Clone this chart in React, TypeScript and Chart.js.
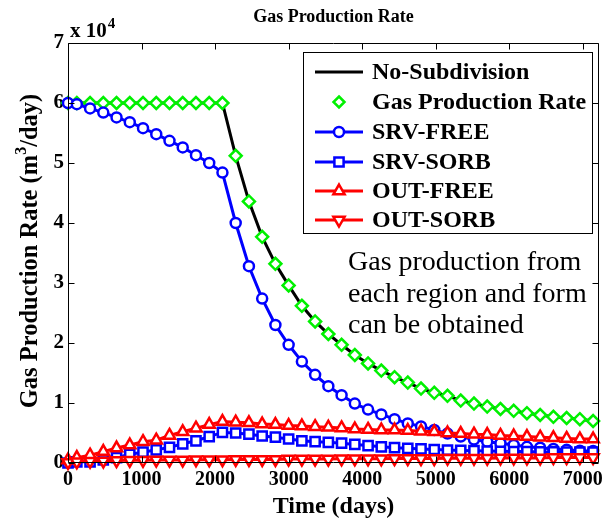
import React, { useEffect, useRef } from "react";
import { Chart, registerables } from "chart.js";

Chart.register(...registerables);

// ---- data (rates in units of 10^4 m^3/day) ----
const times = [0, 120, 300, 480, 660, 840, 1020, 1200, 1380, 1560, 1740, 1920, 2100, 2280, 2460, 2640, 2820, 3000, 3180, 3360, 3540, 3720, 3900, 4080, 4260, 4440, 4620, 4800, 4980, 5160, 5340, 5520, 5700, 5880, 6060, 6240, 6420, 6600, 6780, 6960, 7140];
const noSubdivision = [6.0, 6.0, 6.0, 6.0, 6.0, 6.0, 6.0, 6.0, 6.0, 6.0, 6.0, 6.0, 6.0, 5.12, 4.36, 3.77, 3.32, 2.96, 2.62, 2.36, 2.15, 1.97, 1.80, 1.66, 1.54, 1.43, 1.34, 1.24, 1.17, 1.12, 1.04, 0.99, 0.94, 0.90, 0.87, 0.83, 0.80, 0.77, 0.75, 0.73, 0.70];
const gasProductionRate = [6.0, 6.0, 6.0, 6.0, 6.0, 6.0, 6.0, 6.0, 6.0, 6.0, 6.0, 6.0, 6.0, 5.12, 4.36, 3.77, 3.32, 2.96, 2.62, 2.36, 2.15, 1.97, 1.80, 1.66, 1.54, 1.43, 1.34, 1.24, 1.17, 1.12, 1.04, 0.99, 0.94, 0.90, 0.87, 0.83, 0.80, 0.77, 0.75, 0.73, 0.70];
const srvFree = [6.0, 5.98, 5.91, 5.84, 5.76, 5.68, 5.58, 5.48, 5.37, 5.26, 5.13, 5.0, 4.84, 4.0, 3.28, 2.74, 2.30, 1.97, 1.69, 1.47, 1.28, 1.13, 0.99, 0.89, 0.81, 0.73, 0.66, 0.61, 0.55, 0.49, 0.44, 0.39, 0.355, 0.33, 0.30, 0.27, 0.255, 0.235, 0.22, 0.205, 0.2];
const srvSorb = [0.0, 0.02, 0.02, 0.05, 0.09, 0.145, 0.18, 0.22, 0.26, 0.32, 0.37, 0.44, 0.51, 0.50, 0.48, 0.45, 0.43, 0.40, 0.37, 0.355, 0.345, 0.33, 0.31, 0.29, 0.27, 0.255, 0.245, 0.235, 0.225, 0.215, 0.21, 0.205, 0.2, 0.195, 0.19, 0.19, 0.185, 0.185, 0.18, 0.18, 0.18];
const outFree = [0.05, 0.09, 0.13, 0.19, 0.25, 0.30, 0.355, 0.38, 0.46, 0.52, 0.58, 0.64, 0.69, 0.68, 0.67, 0.65, 0.64, 0.625, 0.615, 0.605, 0.595, 0.585, 0.565, 0.56, 0.55, 0.55, 0.54, 0.53, 0.52, 0.50, 0.49, 0.48, 0.475, 0.46, 0.45, 0.44, 0.43, 0.42, 0.41, 0.40, 0.40];
const outSorb = [0.01, 0.02, 0.03, 0.035, 0.04, 0.045, 0.045, 0.05, 0.05, 0.05, 0.055, 0.055, 0.055, 0.06, 0.06, 0.06, 0.06, 0.065, 0.065, 0.065, 0.065, 0.07, 0.07, 0.07, 0.07, 0.075, 0.075, 0.075, 0.075, 0.08, 0.08, 0.08, 0.08, 0.085, 0.085, 0.085, 0.085, 0.09, 0.09, 0.09, 0.09];

const xTicks = [0, 1000, 2000, 3000, 4000, 5000, 6000, 7000];
const yTicks = [0, 1, 2, 3, 4, 5, 6, 7];
const xMax = 7220;
const yMax = 7;

const titleText = "Gas Production Rate";
const xTitle = "Time (days)";
const yTitleParts = ["Gas Production Rate (m", "3", "/day)"];
const annotationLines = ["Gas production from", "each region and form", "can be obtained"];

const SERIF = '"Liberation Serif", "Times New Roman", serif';

function pts(vals: number[]) {
  return times.map((t, i) => ({ x: t, y: vals[i] }));
}

function drawMarker(ctx: CanvasRenderingContext2D, style: string, x: number, y: number, r: number, rot: number) {
  ctx.beginPath();
  if (style === "circle") {
    ctx.arc(x, y, r, 0, Math.PI * 2);
  } else if (style === "rect") {
    const s = Math.SQRT1_2 * r;
    ctx.rect(x - s, y - s, 2 * s, 2 * s);
  } else if (style === "rectRot") {
    ctx.moveTo(x, y - r);
    ctx.lineTo(x + r, y);
    ctx.lineTo(x, y + r);
    ctx.lineTo(x - r, y);
    ctx.closePath();
  } else if (style === "triangle") {
    const a0 = (rot * Math.PI) / 180;
    for (let k = 0; k < 3; k++) {
      const a = a0 + (k * 2 * Math.PI) / 3;
      const px = x + Math.sin(a) * r;
      const py = y - Math.cos(a) * r;
      if (k === 0) ctx.moveTo(px, py);
      else ctx.lineTo(px, py);
    }
    ctx.closePath();
  }
  ctx.fill();
  ctx.stroke();
}

const decorPlugin = {
  id: "decor",
  afterDatasetsDraw(chart: any) {
    const { ctx, chartArea: a, scales } = chart;
    const xs = scales.x;
    const ys = scales.y;
    ctx.save();
    // axes box
    ctx.strokeStyle = "#000";
    ctx.lineWidth = 1;
    const L = Math.round(a.left) + 0.5;
    const R = Math.round(a.right) - 0.5;
    const T = Math.round(a.top) + 0.5;
    const B = Math.round(a.bottom) - 0.5;
    ctx.beginPath();
    ctx.rect(L, T, R - L, B - T);
    ctx.stroke();
    // inside ticks
    const tl = 6;
    ctx.beginPath();
    xTicks.forEach((v) => {
      const px = Math.round(xs.getPixelForValue(v)) + 0.5;
      ctx.moveTo(px, B);
      ctx.lineTo(px, B - tl);
      ctx.moveTo(px, T);
      ctx.lineTo(px, T + tl);
    });
    yTicks.forEach((v) => {
      const py = Math.round(ys.getPixelForValue(v)) + 0.5;
      ctx.moveTo(L, py);
      ctx.lineTo(L + tl, py);
      ctx.moveTo(R, py);
      ctx.lineTo(R - tl, py);
    });
    ctx.stroke();

    // legend
    const lx0 = 303.5, ly0 = 52.5, lx1 = 592.5, ly1 = 233.5;
    ctx.fillStyle = "#fff";
    ctx.fillRect(lx0, ly0, lx1 - lx0, ly1 - ly0);
    ctx.strokeStyle = "#000";
    ctx.lineWidth = 1;
    ctx.strokeRect(lx0, ly0, lx1 - lx0, ly1 - ly0);
    const rowY = [72, 102, 132, 162, 191, 220];
    ctx.font = `bold 24px ${SERIF}`;
    ctx.textAlign = "left";
    ctx.textBaseline = "middle";
    chart.data.datasets.forEach((ds: any, i: number) => {
      const yy = rowY[i];
      if (ds.showLine !== false) {
        ctx.strokeStyle = ds.borderColor;
        ctx.lineWidth = ds.borderWidth;
        ctx.beginPath();
        ctx.moveTo(315, yy);
        ctx.lineTo(363, yy);
        ctx.stroke();
      }
      if (ds.pointRadius > 0) {
        ctx.strokeStyle = ds.pointBorderColor;
        ctx.fillStyle = ds.pointBackgroundColor;
        ctx.lineWidth = ds.pointBorderWidth;
        drawMarker(ctx, ds.pointStyle, 339, yy, ds.legendRadius, ds.pointRotation || 0);
      }
      ctx.fillStyle = "#000";
      ctx.fillText(ds.label, 372, yy + 1);
    });

    // annotation
    ctx.font = `28px ${SERIF}`;
    ctx.textBaseline = "alphabetic";
    ctx.fillStyle = "#000";
    annotationLines.forEach((s, i) => ctx.fillText(s, 348, 270 + i * 31.5));

    // title
    const cx = (a.left + a.right) / 2;
    ctx.font = `bold 18px ${SERIF}`;
    ctx.textAlign = "center";
    ctx.textBaseline = "middle";
    ctx.fillText(titleText, cx, 17);

    // exponent label
    ctx.textAlign = "left";
    ctx.textBaseline = "alphabetic";
    ctx.font = `bold 21px ${SERIF}`;
    ctx.fillText("x 10", 70, 37);
    const w10 = ctx.measureText("x 10").width;
    ctx.font = `bold 15px ${SERIF}`;
    ctx.fillText("4", 70 + w10 + 1, 28);

    // x title
    ctx.font = `bold 24px ${SERIF}`;
    ctx.textAlign = "center";
    ctx.textBaseline = "middle";
    ctx.fillText(xTitle, cx, 507);

    // y title (rotated)
    ctx.save();
    ctx.translate(31, (a.top + a.bottom) / 2 - 2);
    ctx.rotate(-Math.PI / 2);
    ctx.textAlign = "left";
    ctx.textBaseline = "middle";
    const big = `bold 24.5px ${SERIF}`;
    const small = `bold 16px ${SERIF}`;
    ctx.font = big;
    const w1 = ctx.measureText(yTitleParts[0]).width;
    ctx.font = small;
    const w2 = ctx.measureText(yTitleParts[1]).width;
    ctx.font = big;
    const w3 = ctx.measureText(yTitleParts[2]).width;
    let sx = -(w1 + w2 + w3) / 2;
    ctx.fillText(yTitleParts[0], sx, 0);
    sx += w1;
    ctx.font = small;
    ctx.fillText(yTitleParts[1], sx, -9);
    sx += w2;
    ctx.font = big;
    ctx.fillText(yTitleParts[2], sx, 0);
    ctx.restore();

    ctx.restore();
  },
};

export default function App() {
  const ref = useRef<HTMLCanvasElement | null>(null);
  useEffect(() => {
    if (!ref.current) return;
    const common = { clip: false as any, tension: 0, pointBackgroundColor: "#ffffff", pointBorderWidth: 2.5 };
    const chart = new Chart(ref.current, {
      type: "line",
      data: {
        datasets: [
          { ...common, label: "No-Subdivision", data: pts(noSubdivision), borderColor: "#000000", borderWidth: 3, pointRadius: 0, pointStyle: "circle", order: 6 } as any,
          { ...common, label: "Gas Production Rate", data: pts(gasProductionRate), showLine: false, borderColor: "#00f000", pointBorderColor: "#00f000", borderWidth: 2.5, pointStyle: "rectRot", pointRadius: 6, legendRadius: 5.5, order: 5 } as any,
          { ...common, label: "SRV-FREE", data: pts(srvFree), borderColor: "#0000ff", pointBorderColor: "#0000ff", borderWidth: 3, pointStyle: "circle", pointRadius: 5, legendRadius: 5, order: 4 } as any,
          { ...common, label: "SRV-SORB", data: pts(srvSorb), borderColor: "#0000ff", pointBorderColor: "#0000ff", borderWidth: 3, pointStyle: "rect", pointRadius: 6.5, legendRadius: 6.5, order: 3 } as any,
          { ...common, label: "OUT-FREE", data: pts(outFree), borderColor: "#ff0000", pointBorderColor: "#ff0000", borderWidth: 3, pointStyle: "triangle", pointRadius: 6.5, legendRadius: 6.5, order: 2 } as any,
          { ...common, label: "OUT-SORB", data: pts(outSorb), borderColor: "#ff0000", pointBorderColor: "#ff0000", borderWidth: 3, pointStyle: "triangle", pointRotation: 180, pointRadius: 6.5, legendRadius: 6.5, order: 1 } as any,
        ],
      },
      options: {
        animation: false,
        responsive: false,
        devicePixelRatio: 1,
        layout: { padding: { top: 43, right: 15, bottom: 0, left: 0 } },
        plugins: { legend: { display: false }, title: { display: false }, tooltip: { enabled: false } },
        scales: {
          x: {
            type: "linear",
            min: 0,
            max: xMax,
            grid: { display: false, drawTicks: false },
            border: { display: false },
            afterFit: (s: any) => { s.height = 58; },
            afterBuildTicks: (s: any) => { s.ticks = xTicks.map((v) => ({ value: v })); },
            ticks: { color: "#000", font: { family: SERIF, size: 20, weight: "bold" }, padding: 5, maxRotation: 0, autoSkip: false, callback: (v: any) => String(v) },
          },
          y: {
            type: "linear",
            min: 0,
            max: yMax,
            grid: { display: false, drawTicks: false },
            border: { display: false },
            afterFit: (s: any) => { s.width = 68; },
            afterBuildTicks: (s: any) => { s.ticks = yTicks.map((v) => ({ value: v })); },
            ticks: { color: "#000", font: { family: SERIF, size: 21, weight: "bold" }, padding: 4, autoSkip: false, callback: (v: any) => String(v) },
          },
        },
      },
      plugins: [decorPlugin],
    } as any);
    return () => chart.destroy();
  }, []);
  return (
    <div style={{ position: "fixed", left: 0, top: 0, width: 614, height: 521, background: "#fff" }}>
      <canvas ref={ref} width={614} height={521} style={{ width: 614, height: 521, display: "block" }} />
    </div>
  );
}
